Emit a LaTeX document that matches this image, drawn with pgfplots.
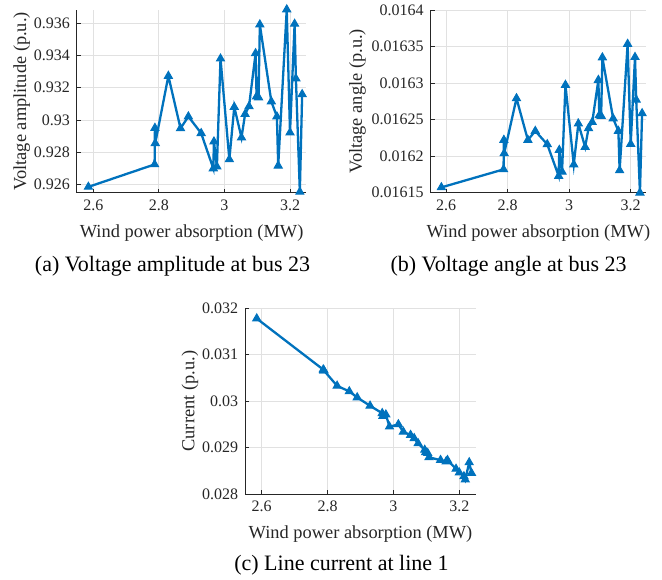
\documentclass[border=0pt]{standalone}
\usepackage{fontspec}
\setmainfont{Liberation Serif}
\usepackage{pgfplots}
\usepackage{pgfplotstable}
\pgfplotsset{compat=1.18}
\definecolor{mblue}{RGB}{0,114,189}
\definecolor{axgray}{RGB}{38,38,38}
\definecolor{gridgray}{RGB}{225,225,225}

\pgfplotstableread{
x      a        b          c
2.585  0.92586  0.0161573  0.03178
2.787  0.92725  0.0161819  0.03068
2.788  0.92950  0.0162221  0.03066
2.789  0.92856  0.0162038  0.03066
2.829  0.93272  0.0162791  0.03033
2.866  0.92948  0.0162221  0.03021
2.890  0.93021  0.0162344  0.03008
2.929  0.92918  0.0162162  0.02990
2.966  0.92700  0.0161728  0.02974
2.968  0.92866  0.0162084  0.02968
2.977  0.92711  0.0161787  0.02971
2.988  0.93379  0.0162974  0.02945
3.015  0.92756  0.0161885  0.02950
3.030  0.93080  0.0162445  0.02934
3.052  0.92891  0.0162125  0.02927
3.063  0.93036  0.0162380  0.02920
3.075  0.93084  0.0162465  0.02909
3.095  0.93412  0.0163042  0.02895
3.098  0.93145  0.0162560  0.02890
3.104  0.93139  0.0162550  0.02888
3.108  0.93590  0.0163350  0.02879
3.143  0.93114  0.0162515  0.02873
3.160  0.93021  0.0162345  0.02870
3.164  0.92717  0.0161805  0.02873
3.190  0.93683  0.0163535  0.02854
3.200  0.92922  0.0162166  0.02846
3.214  0.93594  0.0163355  0.02838
3.218  0.93256  0.0162770  0.02831
3.230  0.92555  0.0161500  0.02868
3.237  0.93159  0.0162586  0.02845
}\datatable

\pgfplotsset{
  myline/.style={color=mblue, line width=1.15pt, mark=triangle*, mark size=2.3pt, mark options={solid, fill=mblue, line width=0.5pt}},
  mystyle/.style={
  scale only axis,
  axis x line*=bottom, axis y line*=left,
  xmin=2.55, xmax=3.25,
  xtick={2.6,2.8,3,3.2},
  grid=major,
  major grid style={gridgray, line width=0.4pt},
  axis line style={axgray, line width=0.5pt},
  tick style={axgray, line width=0.4pt},
  tick align=inside,
  major tick length=2pt,
  ticklabel style={font=\fontsize{8}{9}\selectfont, text=axgray},
  label style={font=\fontsize{9.2}{10}\selectfont, text=axgray},
  /pgf/number format/assume math mode=true,
  scaled ticks=false,
  yticklabel style={/pgf/number format/fixed, /pgf/number format/precision=5},
  xticklabel style={/pgf/number format/fixed},
  xlabel={Wind power absorption (MW)},
  clip=false,
}}

\begin{document}
\begin{tikzpicture}
\useasboundingbox (0,0) rectangle (331pt,-289.5pt);

\begin{axis}[mystyle, at={(38.45pt,-96.35pt)}, anchor=south west,
  width=114.75pt, height=91.35pt,
  ymin=0.9255, ymax=0.9368,
  ytick={0.926,0.928,0.93,0.932,0.934,0.936},
  ylabel shift=-5pt,
  ylabel={Voltage amplitude (p.u.)}]
\addplot[myline] table[x=x, y=a] {\datatable};
\end{axis}

\begin{axis}[mystyle, at={(215.3pt,-96.35pt)}, anchor=south west,
  width=107.75pt, height=91.35pt,
  ymin=0.01615, ymax=0.0164,
  ytick={0.01615,0.0162,0.01625,0.0163,0.01635,0.0164},
  ylabel shift=-4pt,
  ylabel={Voltage angle (p.u.)}]
\addplot[myline] table[x=x, y=b] {\datatable};
\end{axis}

\begin{axis}[mystyle, at={(122.6pt,-247pt)}, anchor=south west,
  width=115.3pt, height=92.85pt,
  ymin=0.028, ymax=0.032,
  ytick={0.028,0.029,0.03,0.031,0.032},
  ylabel shift=-5pt,
  ylabel={Current (p.u.)}]
\addplot[myline] table[x=x, y=c] {\datatable};
\end{axis}

\node[font=\fontsize{11}{13}\selectfont, text=black] at (86.25pt,-133pt) {(a) Voltage amplitude at bus 23};
\node[font=\fontsize{11}{13}\selectfont, text=black] at (254.3pt,-133pt) {(b) Voltage angle at bus 23};
\node[font=\fontsize{11}{13}\selectfont, text=black] at (170.75pt,-282.5pt) {(c) Line current at line 1};
\end{tikzpicture}
\end{document}
